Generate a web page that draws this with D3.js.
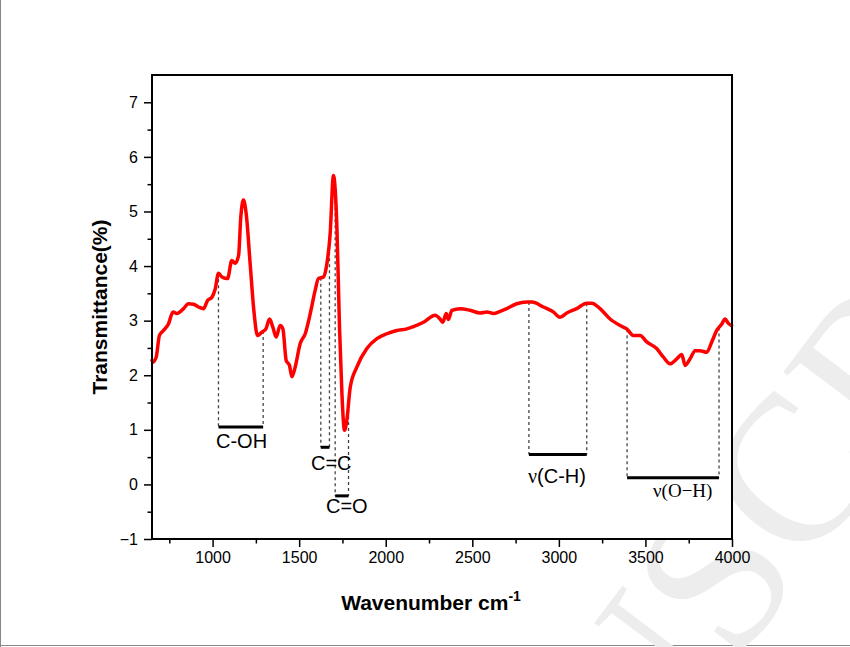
<!DOCTYPE html>
<html><head><meta charset="utf-8">
<script src="https://cdn.jsdelivr.net/npm/d3@7"></script>
<style>body{margin:0;background:#fff}svg{display:block}</style>
</head><body>
<svg id="c" width="850" height="647"></svg>
<script>
const wavenumber = [650,655,674,693,716,745,771,794,832,861,890,919,947,971,996,1015,1034,1054,1086,1111,1130,1150,1163,1178,1194,1217,1240,1259,1285,1308,1329,1348,1367,1390,1406,1425,1444,1458,1477,1506,1535,1564,1592,1611,1640,1660,1679,1698,1718,1733,1747,1762,1775,1795,1833,1891,1949,2006,2064,2122,2160,2218,2285,2314,2330,2349,2362,2382,2430,2487,2545,2584,2622,2661,2699,2757,2815,2844,2911,2968,3007,3046,3103,3161,3190,3238,3296,3354,3392,3430,3469,3508,3565,3604,3642,3681,3710,3729,3758,3787,3815,3854,3883,3912,3941,3960,3979,3998];
const transmittance = [2.27,2.24,2.33,2.73,2.82,2.94,3.16,3.13,3.22,3.31,3.30,3.25,3.22,3.37,3.43,3.58,3.87,3.80,3.77,4.10,4.05,4.19,4.90,5.21,4.96,4.04,3.13,2.73,2.79,2.85,3.03,2.88,2.70,2.91,2.85,2.27,2.18,1.97,2.15,2.58,2.76,3.13,3.55,3.77,3.80,4.04,4.59,5.66,4.71,2.88,1.66,0.99,1.17,1.78,2.15,2.49,2.67,2.76,2.82,2.85,2.89,2.97,3.10,3.03,2.97,3.13,3.02,3.19,3.22,3.19,3.14,3.16,3.13,3.17,3.22,3.31,3.34,3.34,3.25,3.16,3.06,3.14,3.22,3.32,3.32,3.22,3.03,2.91,2.85,2.73,2.73,2.61,2.49,2.33,2.21,2.30,2.38,2.18,2.30,2.45,2.45,2.42,2.61,2.82,2.94,3.03,2.95,2.91];
const xTicks = [1000,1500,2000,2500,3000,3500,4000];
const xMinor = [750,1250,1750,2250,2750,3250,3750];
const yTicks = [-1,0,1,2,3,4,5,6,7];
const yMinor = [-0.5,0.5,1.5,2.5,3.5,4.5,5.5,6.5];
const bandLabels = ["C-OH","C=C","C=O","ν(C-H)","ν(O−H)"];
const bandStart = [1034,1625,1708,2827,3394];
const bandEnd = [1292,1675,1785,3161,3925];
const bandLevel = [1.05,0.68,-0.21,0.55,0.12];

const svg = d3.select("#c");
const L=152,R=732,T=75,B=539;
const x = d3.scaleLinear().domain([650,4000]).range([L,R]);
const y = d3.scaleLinear().domain([-1,7.5]).range([B,T]);
const data = wavenumber.map((w,i)=>({w,v:transmittance[i]}));

// page border lines
svg.append("line").attr("x1",0.5).attr("x2",0.5).attr("y1",0).attr("y2",647).attr("stroke","#888").attr("stroke-width",1);
svg.append("line").attr("x1",0).attr("x2",850).attr("y1",645.5).attr("y2",645.5).attr("stroke","#888").attr("stroke-width",1);

// watermark
const wm = svg.append("g").attr("transform","translate(735,665) rotate(-53)")
  .attr("font-family","Liberation Serif, Times New Roman, serif").attr("font-size",210).attr("fill","#ededed");
wm.append("text").attr("text-anchor","end").text("NU");
wm.append("text").attr("text-anchor","start").text("SCR");
svg.append("rect").attr("x",L).attr("y",T).attr("width",R-L).attr("height",B-T).attr("fill","#fff");

const interp = w => { const i = d3.bisector(d=>d.w).left(data,w); if(i<=0) return data[0].v; if(i>=data.length) return data[data.length-1].v;
  const a=data[i-1],b=data[i]; return a.v+(b.v-a.v)*(w-a.w)/(b.w-a.w); };

// annotations
const ann = svg.append("g");
bandLabels.forEach((lab,i)=>{
  [bandStart[i],bandEnd[i]].forEach(w=>{
    ann.append("line").attr("x1",x(w)).attr("x2",x(w)).attr("y1",y(interp(w))).attr("y2",y(bandLevel[i]))
      .attr("stroke","#444").attr("stroke-width",1.3).attr("stroke-dasharray","3,3");
  });
  ann.append("line").attr("x1",x(bandStart[i])).attr("x2",x(bandEnd[i])).attr("y1",y(bandLevel[i])).attr("y2",y(bandLevel[i]))
    .attr("stroke","#000").attr("stroke-width",3);
});
const sans="Liberation Sans, Arial, sans-serif", serif="Liberation Serif, Times New Roman, serif";
const labPos=[[216,448],[311,470],[326,513],[528,483],[653,497]];
bandLabels.forEach((lab,i)=>{
  const t=ann.append("text").attr("x",labPos[i][0]).attr("y",labPos[i][1]).attr("fill","#000");
  if(i<3){ t.attr("font-family",sans).attr("font-size",20).text(lab); }
  else if(i===3){ t.attr("font-family",sans).attr("font-size",20);
    t.append("tspan").attr("font-family",serif).text(lab[0]); t.append("tspan").text(lab.slice(1)); }
  else { t.attr("font-family",serif).attr("font-size",19).text(lab); }
});

svg.append("path").datum(data).attr("fill","none").attr("stroke","#ff0000").attr("stroke-width",3.5)
  .attr("stroke-linejoin","round").attr("stroke-linecap","round")
  .attr("d",d3.line().x(d=>x(d.w)).y(d=>y(d.v)).curve(d3.curveMonotoneX));

// axes
const ax = d3.axisBottom(x).tickValues(xTicks).tickSize(8).tickPadding(5).tickFormat(d3.format("d"));
svg.append("g").attr("transform",`translate(0,${B})`).call(ax);
svg.append("g").attr("transform",`translate(0,${B})`).call(d3.axisBottom(x).tickValues(xMinor).tickSize(4.5).tickFormat(""));
const ay = d3.axisLeft(y).tickValues(yTicks).tickSize(8).tickPadding(6);
svg.append("g").attr("transform",`translate(${L},0)`).call(ay);
svg.append("g").attr("transform",`translate(${L},0)`).call(d3.axisLeft(y).tickValues(yMinor).tickSize(4.5).tickFormat(""));
svg.selectAll(".tick line").attr("stroke","#000").attr("stroke-width",1.5);
svg.selectAll(".domain").remove();
svg.selectAll(".tick text").attr("font-family",sans).attr("font-size",16).attr("fill","#000");
svg.append("rect").attr("x",L).attr("y",T).attr("width",R-L).attr("height",B-T).attr("fill","none").attr("stroke","#000").attr("stroke-width",2);

// axis titles
svg.append("text").attr("transform","translate(107,307) rotate(-90)").attr("text-anchor","middle")
  .attr("font-family",sans).attr("font-weight","bold").attr("font-size",21).text("Transmittance(%)");
const xt = svg.append("text").attr("x",431).attr("y",610).attr("text-anchor","middle")
  .attr("font-family",sans).attr("font-weight","bold").attr("font-size",21);
xt.append("tspan").text("Wavenumber cm");
xt.append("tspan").attr("dy",-9).attr("font-size",14).text("-1");
</script>
</body></html>
